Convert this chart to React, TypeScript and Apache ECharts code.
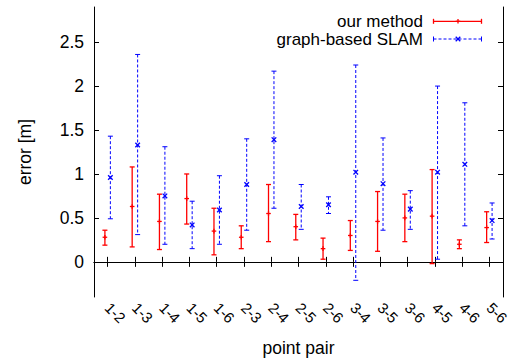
import React, { useEffect, useRef } from "react";
import * as echarts from "echarts";

const pairs = ["1-2", "1-3", "1-4", "1-5", "1-6", "2-3", "2-4", "2-5", "2-6", "3-4", "3-5", "3-6", "4-5", "4-6", "5-6"];
const yTicks = [0, 0.5, 1, 1.5, 2, 2.5];

// our method: mean, low, high
const oursMean = [0.28, 0.63, 0.46, 0.72, 0.35, 0.28, 0.55, 0.4, 0.15, 0.3, 0.46, 0.5, 0.52, 0.2, 0.39];
const oursLow = [0.19, 0.17, 0.14, 0.43, 0.08, 0.15, 0.23, 0.25, 0.03, 0.13, 0.12, 0.23, -0.02, 0.15, 0.22];
const oursHigh = [0.36, 1.08, 0.77, 1.0, 0.61, 0.41, 0.88, 0.54, 0.27, 0.47, 0.8, 0.77, 1.05, 0.25, 0.57];

// graph-based SLAM: mean, low, high
const slamMean = [0.96, 1.33, 0.75, 0.42, 0.59, 0.88, 1.39, 0.63, 0.65, 1.02, 0.89, 0.6, 1.02, 1.11, 0.47];
const slamLow = [0.49, 0.31, 0.2, 0.15, 0.2, 0.36, 0.61, 0.37, 0.55, -0.21, 0.36, 0.37, 0.03, 0.41, 0.26];
const slamHigh = [1.43, 2.36, 1.31, 0.69, 0.98, 1.4, 2.17, 0.88, 0.74, 2.24, 1.41, 0.81, 2.0, 1.81, 0.67];

const FONT = "'Liberation Sans', Arial, Helvetica, sans-serif";
const RED = "#ff0000";
const BLUE = "#0000ff";

function makeItem(color: string, offset: number, dashed: boolean, marker: "plus" | "cross", lw: number) {
  return (params: any, api: any) => {
    const i = api.value(0);
    const c = api.value(1);
    const lo = api.value(2);
    const hi = api.value(3);
    const bw = api.size([1, 0])[0];
    const pc = api.coord([i, c]);
    const x = pc[0] + offset * bw;
    const yc = pc[1];
    const yl = api.coord([i, lo])[1];
    const yh = api.coord([i, hi])[1];
    const cap = 2.5;
    const m = 2.3;
    const st = { stroke: color, lineWidth: lw };
    const children: any[] = [
      { type: "line", shape: { x1: x, y1: yh, x2: x, y2: yl }, style: { ...st, lineDash: dashed ? [3, 2] : null } },
      { type: "line", shape: { x1: x - cap, y1: yh, x2: x + cap, y2: yh }, style: st },
      { type: "line", shape: { x1: x - cap, y1: yl, x2: x + cap, y2: yl }, style: st },
    ];
    if (marker === "plus") {
      children.push({ type: "line", shape: { x1: x - m, y1: yc, x2: x + m, y2: yc }, style: st });
      children.push({ type: "line", shape: { x1: x, y1: yc - m, x2: x, y2: yc + m }, style: st });
    } else {
      children.push({ type: "line", shape: { x1: x - m, y1: yc - m, x2: x + m, y2: yc + m }, style: { ...st, lineWidth: 1.3 } });
      children.push({ type: "line", shape: { x1: x - m, y1: yc + m, x2: x + m, y2: yc - m }, style: { ...st, lineWidth: 1.3 } });
    }
    return { type: "group", children };
  };
}

function legendRow(y: number, color: string, dashed: boolean, marker: "plus" | "cross", label: string, lw: number) {
  const x1 = 433.5;
  const x2 = 481.5;
  const xm = 458;
  const m = 2.3;
  const st = { stroke: color, lineWidth: lw };
  const els: any[] = [
    { type: "text", x: 423, y, style: { text: label, fill: "#000", font: `17px ${FONT}`, textAlign: "right", textVerticalAlign: "middle" } },
    { type: "line", shape: { x1, y1: y, x2, y2: y }, style: { ...st, lineDash: dashed ? [3, 2] : null } },
    { type: "line", shape: { x1, y1: y - 2.5, x2: x1, y2: y + 2.5 }, style: st },
    { type: "line", shape: { x1: x2, y1: y - 2.5, x2: x2, y2: y + 2.5 }, style: st },
  ];
  if (marker === "plus") {
    els.push({ type: "line", shape: { x1: xm - m, y1: y, x2: xm + m, y2: y }, style: st });
    els.push({ type: "line", shape: { x1: xm, y1: y - m, x2: xm, y2: y + m }, style: st });
  } else {
    els.push({ type: "line", shape: { x1: xm - m, y1: y - m, x2: xm + m, y2: y + m }, style: { ...st, lineWidth: 1.3 } });
    els.push({ type: "line", shape: { x1: xm - m, y1: y + m, x2: xm + m, y2: y - m }, style: { ...st, lineWidth: 1.3 } });
  }
  return els;
}

export default function App() {
  const ref = useRef<HTMLDivElement>(null);
  useEffect(() => {
    if (!ref.current) return;
    const chart = echarts.init(ref.current, undefined, { renderer: "svg" });
    const oursData = pairs.map((_, i) => [i, oursMean[i], oursLow[i], oursHigh[i]]);
    const slamData = pairs.map((_, i) => [i, slamMean[i], slamLow[i], slamHigh[i]]);
    const axisLine = { show: true, lineStyle: { color: "#000", width: 1 } };
    const tick = { show: true, inside: true, length: 5, lineStyle: { color: "#000", width: 1 } };
    chart.setOption({
      animation: false,
      backgroundColor: "#fff",
      grid: { left: 94, right: 13, top: 7, bottom: 61, containLabel: false, outerBoundsMode: "none" },
      xAxis: [
        {
          type: "category",
          data: pairs,
          position: "bottom",
          boundaryGap: true,
          axisLine,
          axisTick: { ...tick, alignWithLabel: true, interval: 0 },
          axisLabel: { interval: 0, rotate: -45, fontSize: 15, color: "#000", fontFamily: FONT, margin: 8 },
          splitLine: { show: false },
          name: "point pair",
          nameLocation: "middle",
          nameGap: 42,
          nameTextStyle: { fontSize: 17.5, color: "#000", fontFamily: FONT },
        },
        {
          type: "category",
          data: pairs,
          position: "top",
          boundaryGap: true,
          axisLine,
          axisTick: { ...tick, alignWithLabel: true, interval: 0 },
          axisLabel: { show: false },
          splitLine: { show: false },
        },
      ],
      yAxis: [
        {
          type: "value",
          min: -0.4,
          max: 2.9,
          position: "left",
          axisLine,
          axisTick: { ...tick, customValues: yTicks },
          axisLabel: { customValues: yTicks, fontSize: 17.5, color: "#000", fontFamily: FONT, margin: 10 },
          splitLine: { show: false },
          name: "error [m]",
          nameLocation: "middle",
          nameGap: 60,
          nameRotate: 90,
          nameTextStyle: { fontSize: 17.5, color: "#000", fontFamily: FONT },
        },
        {
          type: "value",
          min: -0.4,
          max: 2.9,
          position: "right",
          axisLine,
          axisTick: { ...tick, customValues: yTicks },
          axisLabel: { show: false },
          splitLine: { show: false },
        },
      ],
      series: [
        {
          type: "custom",
          name: "our method",
          xAxisIndex: 0,
          yAxisIndex: 0,
          renderItem: makeItem(RED, -0.1, false, "plus", 1.3),
          data: oursData,
          encode: { x: 0, y: [1, 2, 3] },
          z: 3,
        },
        {
          type: "custom",
          name: "graph-based SLAM",
          xAxisIndex: 0,
          yAxisIndex: 0,
          renderItem: makeItem(BLUE, 0.1, true, "cross", 1),
          data: slamData,
          encode: { x: 0, y: [1, 2, 3] },
          z: 4,
        },
      ],
      graphic: [
        ...legendRow(21.3, RED, false, "plus", "our method", 1.3),
        ...legendRow(39, BLUE, true, "cross", "graph-based SLAM", 1),
      ],
    });
    return () => chart.dispose();
  }, []);
  return <div ref={ref} style={{ position: "fixed", left: 0, top: 0, width: 516, height: 358 }} />;
}
